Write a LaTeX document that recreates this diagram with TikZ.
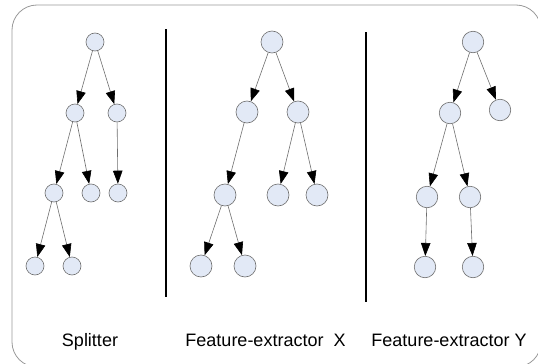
\documentclass[tikz,border=0pt]{standalone}
\usepackage{xcolor}
\usepackage{fontspec}
\setmainfont{Liberation Sans}
\usetikzlibrary{arrows.meta}
\definecolor{vfill}{RGB}{226,233,246}
\definecolor{vline}{RGB}{110,110,110}

\begin{document}
\begin{tikzpicture} [x=1pt, y=-1pt,
    small/.style={ draw=vline, circle, fill=vfill, inner sep=0pt, minimum size=18pt, line width=0.6pt},
    big/.style={ small, minimum size=22pt},
    link/.style={ draw=vline, line width=0.6pt, -{Triangle[length=13pt,width=9.5pt,fill=black,color=black]}},
    caption/.style={ anchor=base, font=\fontsize{18}{20}\selectfont} ]
    \useasboundingbox (0,0) rectangle (538,364);
    \draw[gray!80, line width=0.8pt, rounded corners=25pt] (12,5) rectangle (541,367);

    % splitter
    \foreach \Name/\X/\Y in {sa/95/42, sb/75/113, sc/117/113, sd/54/193, se/91/193,
        sf/118/193, sg/35/266, sh/72/266}{
        \node [small] (\Name) at (\X,\Y) {};
    }
    \foreach \From/\To in {sa/sb, sa/sc, sb/sd, sb/se, sc/sf, sd/sg, sd/sh}{
        \draw [link] (\From) -- (\To);
    }

    % feature-extractor X
    \foreach \Name/\X/\Y in {xa/272/42, xb/247/112, xc/298/112, xd/225/195, xe/278/195,
        xf/317/195, xg/201/266, xh/245/266}{
        \node [big] (\Name) at (\X,\Y) {};
    }
    \foreach \From/\To in {xa/xb, xa/xc, xb/xd, xc/xe, xc/xf, xd/xg, xd/xh}{
        \draw [link] (\From) -- (\To);
    }

    % feature-extractor Y
    \foreach \Name/\X/\Y in {ya/473/42, yb/450/113, yc/500/110, yd/427/197, ye/470/197,
        yf/425/267, yg/473/267}{
        \node [big, minimum size=21.5pt] (\Name) at (\X,\Y) {};
    }
    \foreach \From/\To in {ya/yb, ya/yc, yb/yd, yb/ye, yd/yf, ye/yg}{
        \draw [link] (\From) -- (\To);
    }

    % dividers
    \coordinate (d1top) at (166,29);
    \coordinate (d1bot) at (166,297);
    \coordinate (d2top) at (366,32);
    \coordinate (d2bot) at (366,302);
    \draw [black, line width=1.3pt] (d1top) -- (d1bot);
    \draw [black, line width=1.3pt] (d2top) -- (d2bot);

    \node [caption] (splitter) at (90,346) {Splitter};
    \node [caption] (featx) at (265.5,346) {Feature-extractor\ \ X};
    \node [caption] (featy) at (449,346) {Feature-extractor Y};
\end{tikzpicture}
\end{document}
